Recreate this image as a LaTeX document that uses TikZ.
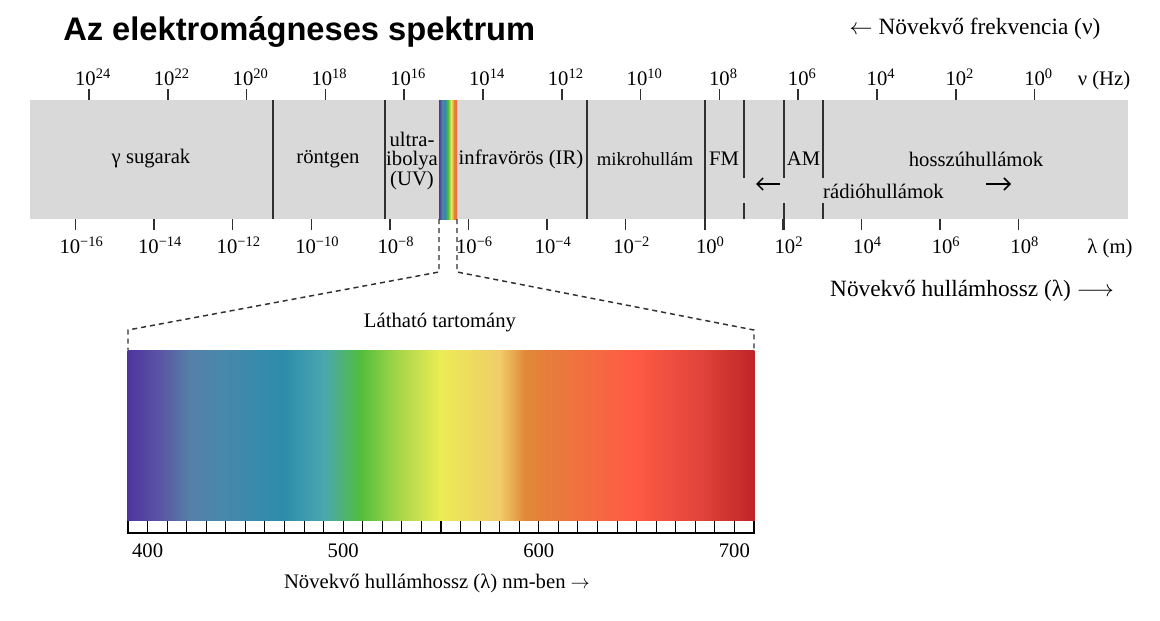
\documentclass[tikz,border=0pt]{standalone}
\usepackage{fontspec}
\setmainfont{Liberation Serif}
\newfontfamily\titlefont{Liberation Sans}
\usetikzlibrary{positioning,calc,arrows.meta}
\definecolor{bandgray}{HTML}{D9D9D9}
\definecolor{linegray}{HTML}{303030}
\tikzset{lbl/.style={font=\fontsize{15.5}{14.5}\selectfont,inner sep=0pt,align=center},
         biglbl/.style={font=\fontsize{17.5}{20}\selectfont,inner sep=0pt},
         axtick/.style={draw=linegray,line width=1.1pt},
         divider/.style={draw=linegray,line width=1.2pt},
         zoomline/.style={draw=linegray,line width=1.1pt,dash pattern=on 3.75pt off 3pt}
}
\tikzstyle{heavydivider} = [draw=linegray,line width=1.6pt]
\tikzstyle{radioarrow} = [-{Straight Barb[length=4.5pt,width=9pt]},line width=1.1pt]
% colours of the visible range
\definecolor{s1}{HTML}{4F35A0}
\definecolor{s2}{HTML}{5A55A5}
\definecolor{s3}{HTML}{5580A8}
\definecolor{s4}{HTML}{4888AC}
\definecolor{s5}{HTML}{2C8CAA}
\definecolor{s6}{HTML}{4AA8AE}
\definecolor{s7}{HTML}{50BE3C}
\definecolor{s8}{HTML}{A0D448}
\definecolor{s9}{HTML}{ECEC55}
\definecolor{s10}{HTML}{F0CC68}
\definecolor{s11}{HTML}{E08838}
\definecolor{s12}{HTML}{F07040}
\definecolor{s13}{HTML}{FF5A44}
\definecolor{s14}{HTML}{E0443A}
\definecolor{s15}{HTML}{C02428}
\begin{document}
\begin{tikzpicture}[x=0.75pt,y=-0.75pt]
\useasboundingbox (0,0) rectangle (1160,621);

% title and frequency direction
\node[anchor=base west,inner sep=0pt,font=\titlefont\bfseries\fontsize{24.5}{28}\selectfont] (title) at (63,40) {Az elektromágneses spektrum};
\node[biglbl] (freqdir) at (975,29) {$\leftarrow$ Növekvő frekvencia (ν)};

% the band
\fill[bandgray] (30,100) rectangle (1128,219);
\foreach \ca/\cb [count=\i from 0] in {s1/s3,s3/s5,s5/s7,s7/s9,s9/s11,s11/s13}
  \shade[left color=\ca,right color=\cb] (439+3*\i,100) rectangle ++(3.2,119);

% frequency axis
\foreach \e [count=\i from 0] in {24,22,...,0} {
  \draw[axtick] (89+78.8*\i,89) -- (89+78.8*\i,100);
  \node[lbl,anchor=base] (nu\i) at (93+78.8*\i,85) {10\textsuperscript{\e}};
}
\node[lbl,anchor=base] (nuunit) at (1104,85) {ν (Hz)};

% wavelength axis
\foreach \e [count=\i from 0] in {−16,−14,−12,−10,−8,−6,−4,−2,0,2,4,6,8} {
  \draw[axtick] (75.5+78.6*\i,219) -- (75.5+78.6*\i,230);
  \node[lbl,anchor=base] (lam\i) at (81.5+78.6*\i,253) {10\textsuperscript{\e}};
}
\node[lbl,anchor=base] (lamunit) at (1110,253) {λ (m)};

% region borders
\draw[heavydivider] (273,100) -- (273,219);
\draw[heavydivider] (385,100) -- (385,219);
\draw[divider] (587,100) -- (587,219);
\draw[divider] (705,100) -- (705,230);
\draw[divider] (744,100) -- (744,178) (744,203) -- (744,219);
\draw[divider] (784,100) -- (784,178) (784,203) -- (784,230);
\draw[divider] (823,100) -- (823,178) (823,203) -- (823,219);

% region names
\node[lbl] (gamma) at (151,159) {γ sugarak};
\node[lbl] (xray) at (328,159) {röntgen};
\node[lbl] (uv) at (412,161) {ultra-\\ibolya\\(UV)};
\node[lbl] (ir) at (521,159) {infravörös (IR)};
\node[lbl,font=\fontsize{14}{16}\selectfont] (micro) at (645,159) {mikrohullám};
\node[lbl] (fm) at (724,159) {FM};
\node[lbl] (am) at (803.5,159) {AM};
\node[lbl] (long) at (976,159) {hosszúhullámok};
\node[lbl] (radio) at (883.5,191) {rádióhullámok};
\coordinate (radioLa) at (780,184);
\coordinate (radioLb) at (756,184);
\coordinate (radioRa) at (986,184);
\coordinate (radioRb) at (1011,184);
\draw[radioarrow] (radioLa) -- (radioLb);
\draw[radioarrow] (radioRa) -- (radioRb);

\node[biglbl] (lamdir) at (972,291) {Növekvő hullámhossz (λ) $\longrightarrow$};

% visible range
\coordinate (stripL) at (439,219);
\coordinate (stripR) at (457,219);
\coordinate (visL) at (128,350);
\coordinate (visR) at (754,350);
\draw[zoomline] (stripL) -- ++(0,53) -- ($(visL)+(0,-20)$) -- (visL);
\draw[zoomline] (stripR) -- ++(0,53) -- ($(visR)+(0,-20)$) -- (visR);
\node[lbl] (vistitle) at (440,323) {Látható tartomány};

\foreach \xa/\ca/\xb/\cb in {128/s1/160/s2,160/s2/190/s3,190/s3/225/s4,225/s4/283/s5,283/s5/325/s6,325/s6/360/s7,360/s7/395/s8,395/s8/440/s9,440/s9/500/s10,500/s10/525/s11,525/s11/580/s12,580/s12/635/s13,635/s13/700/s14,700/s14/754/s15}
  \shade[left color=\ca,right color=\cb] (\xa-0.3,350) rectangle (\xb+0.3,521);

% nm scale
\fill[white] (128,521) rectangle (754,533);
\foreach \i in {0,...,32}
  \draw[black,line width=0.8pt] (128+19.5625*\i,521) -- (128+19.5625*\i,533);
\draw[black,line width=1.5pt] (127,533) -- (755,533);
\foreach \n [count=\i from 0] in {400,500,600,700}
  \node[lbl] (nm\n) at (147.6+195.6*\i,551) {\n};
\node[lbl] (nmdir) at (437,583) {Növekvő hullámhossz (λ) nm-ben $\rightarrow$};

\end{tikzpicture}
\end{document}
